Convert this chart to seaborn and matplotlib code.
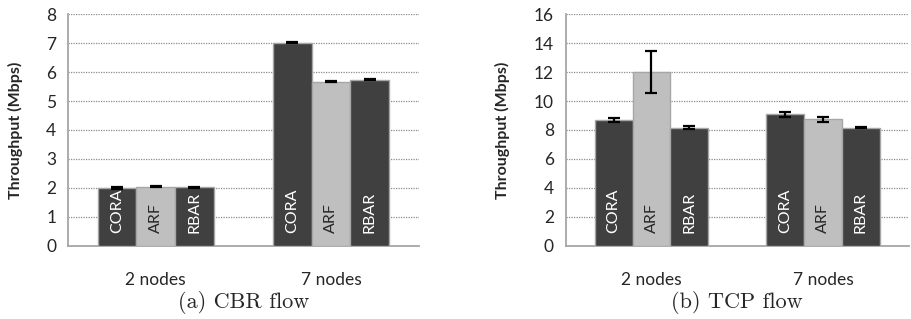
import numpy as np
import pandas as pd
import seaborn as sns
import matplotlib.pyplot as plt

# data
groups = ["2 nodes", "7 nodes"]
protocols = ["CORA", "ARF", "RBAR"]
cbr_mean = [2.00, 2.04, 2.03, 7.01, 5.67, 5.74]
cbr_err = [0.02, 0.02, 0.02, 0.02, 0.02, 0.02]
tcp_mean = [8.69, 12.0, 8.16, 9.07, 8.75, 8.17]
tcp_err = [0.12, 1.43, 0.10, 0.17, 0.18, 0.05]

colors = {"CORA": "#404040", "ARF": "#bfbfbf", "RBAR": "#404040"}
text_colors = {"CORA": "white", "ARF": "#262626", "RBAR": "white"}

sns.set_style("white")
plt.rcParams["font.family"] = ["Lato", "DejaVu Sans"]


def make_df(mean, err):
    rows = []
    i = 0
    for g in groups:
        for p in protocols:
            rows.append((g, p, mean[i], err[i]))
            i += 1
    return pd.DataFrame(rows, columns=["group", "protocol", "value", "err"])


def draw(ax, df, ymax, ystep, caption):
    sns.barplot(data=df, x="group", y="value", hue="protocol", order=groups,
                hue_order=protocols, palette=colors, width=0.66, gap=0,
                edgecolor="#a6a6a6", linewidth=1.0, errorbar=None,
                legend=False, ax=ax, zorder=3)
    # error bars and in-bar labels
    for container, p in zip(ax.containers, protocols):
        sub = df[df["protocol"] == p].set_index("group").loc[groups]
        for bar, (_, row) in zip(container, sub.iterrows()):
            xc = bar.get_x() + bar.get_width() / 2
            ax.errorbar(xc, row["value"], yerr=row["err"], fmt="none",
                        ecolor="black", elinewidth=1.6, capsize=4,
                        capthick=1.6, zorder=5)
            ax.annotate(p, xy=(xc, 0), xytext=(0, 9.5),
                        textcoords="offset points", rotation=90,
                        ha="center", va="bottom", fontsize=11.5,
                        color=text_colors[p], zorder=6)
    ax.set_xlim(-0.5, 1.5)
    ax.set_ylim(0, ymax)
    ax.set_yticks(np.arange(0, ymax + 0.1, ystep))
    ax.yaxis.grid(True, linestyle=(0, (1, 1)), color="#8c8c8c", linewidth=0.9)
    ax.set_axisbelow(True)
    for s in ["top", "right"]:
        ax.spines[s].set_visible(False)
    for s in ["left", "bottom"]:
        ax.spines[s].set_color("#a6a6a6")
        ax.spines[s].set_linewidth(1.3)
    ax.set_xticks([-0.5, 0.5, 1.5], minor=True)
    ax.tick_params(axis="x", which="minor", length=5, color="#a6a6a6", width=1.3)
    ax.tick_params(axis="x", which="major", length=0, labelsize=12.5, pad=19,
                   labelcolor="#262626")
    ax.tick_params(axis="y", length=5, color="#a6a6a6", width=1.3,
                   labelsize=12.5, labelcolor="#262626")
    ax.set_xlabel("")
    ax.set_ylabel("Throughput (Mbps)", fontsize=11.5, fontweight="bold",
                  color="#262626")
    ax.text(0.5, -0.245, caption, transform=ax.transAxes, ha="center",
            va="center", fontsize=16, family=["cmr10", "DejaVu Serif"])


fig = plt.figure(figsize=(9.11, 3.19), dpi=100)
ax1 = fig.add_axes([0.0746, 0.229, 0.385, 0.727])
ax2 = fig.add_axes([0.621, 0.229, 0.3765, 0.727])

draw(ax1, make_df(cbr_mean, cbr_err), 8, 1, "(a) CBR flow")
draw(ax2, make_df(tcp_mean, tcp_err), 16, 2, "(b) TCP flow")
ax1.yaxis.set_label_coords(-0.128, 0.5)
ax2.yaxis.set_label_coords(-0.162, 0.5)

fig.savefig("out.png", dpi=100)
